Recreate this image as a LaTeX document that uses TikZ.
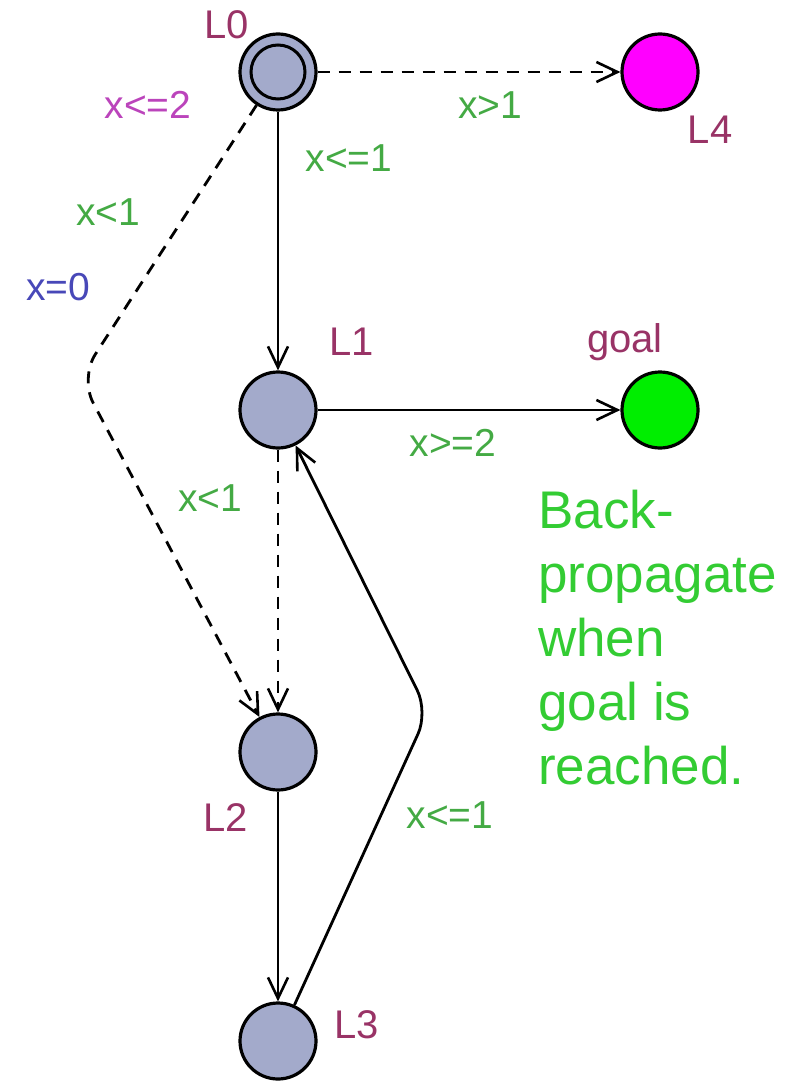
\documentclass[tikz,border=0pt]{standalone}
\usepackage{fontspec}
\setmainfont{Liberation Sans}
\usetikzlibrary{arrows.meta}
\definecolor{locfill}{HTML}{A3AACB}
\definecolor{locname}{HTML}{993366}
\definecolor{guardgreen}{HTML}{44AA44}
\definecolor{invmag}{HTML}{BB44BB}
\definecolor{assignblue}{HTML}{4848B8}
\definecolor{bigtext}{HTML}{33CC33}
\definecolor{goalgreen}{HTML}{00EE00}
\definecolor{l4mag}{HTML}{FF00FF}
\begin{document}
\begin{tikzpicture}[x=1pt,y=-1pt,
  loc/.style={circle,draw=black,line width=3.2pt,fill=locfill,minimum size=76pt,inner sep=0pt},
  lname/.style={text=locname,font=\fontsize{40}{44}\selectfont,inner sep=0pt},
  guard/.style={text=guardgreen,font=\fontsize{39}{44}\selectfont,inner sep=0pt},
  edge/.style={line width=2.8pt,-{Straight Barb[length=21pt,width=20pt,line width=2.6pt]}},
  dashedge/.style={edge,dash pattern=on 12pt off 9pt}]
\useasboundingbox (0,0) rectangle (796,1083);
% locations
\node[loc] (L0) at (278,72) {};
\node[circle,draw=black,line width=3pt,minimum size=54pt,inner sep=0pt] (L0in) at (278,72) {};
\node[loc,fill=l4mag] (L4) at (660,72) {};
\node[loc] (L1) at (278,410) {};
\node[loc,fill=goalgreen] (goal) at (660,410) {};
\node[loc] (L2) at (278,752) {};
\node[loc] (L3) at (278,1041) {};
% names
\node[lname] (nL0) at (227,25) {L0};
\node[lname] (nL4) at (710,130) {L4};
\node[lname] (nL1) at (352,342) {L1};
\node[lname] (ngoal) at (625,342) {goal};
\node[lname] (nL2) at (226,818) {L2};
\node[lname] (nL3) at (357,1025) {L3};
% bend points
\coordinate (b1) at (80,378);
\coordinate (b2) at (428,712);
% edges
\draw[dashedge] (L0) -- (L4);
\draw[edge] (L0) -- (L1);
\draw[dashedge,rounded corners=28pt] (L0) -- (b1) -- (L2);
\draw[edge] (L1) -- (goal);
\draw[dashedge] (L1) -- (L2);
\draw[edge] (L2) -- (L3);
\draw[edge,rounded corners=24pt] (L3) -- (b2) -- (L1);
% labels
\node[text=invmag,font=\fontsize{39}{44}\selectfont,inner sep=0pt] (inv0) at (148,105) {x<=2};
\node[guard] (g04) at (490,105) {x>1};
\node[guard] (g01) at (349,158) {x<=1};
\node[guard] (g02) at (108,212) {x<1};
\node[text=assignblue,font=\fontsize{39}{44}\selectfont,inner sep=0pt] (a02) at (58,287) {x=0};
\node[guard] (g1g) at (453,443) {x>=2};
\node[guard] (g12) at (210,498) {x<1};
\node[guard] (g31) at (450,815) {x<=1};
\node[text=bigtext,font=\fontsize{53}{64}\selectfont,align=left,anchor=north west,inner sep=0pt] (note) at (538,490) {Back-\\propagate\\when\\goal is\\reached.};
\end{tikzpicture}
\end{document}
